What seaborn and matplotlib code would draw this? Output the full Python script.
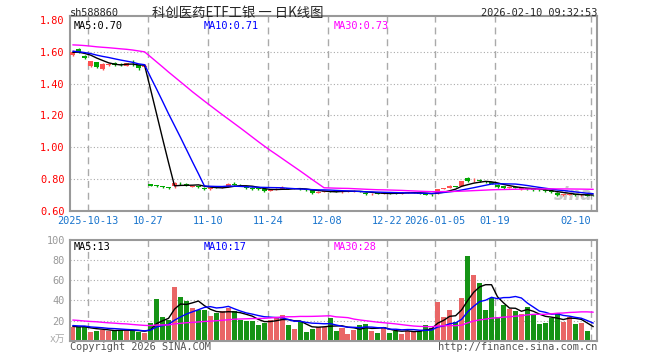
import numpy as np
import pandas as pd
import matplotlib
matplotlib.use("Agg")
import matplotlib.pyplot as plt
import seaborn as sns

# daily K-line of 588860 (09-30 .. 02-10), price in yuan, volume in 万
open_ = [1.580, 1.622, 1.578, 1.515, 1.535, 1.490, 1.520, 1.530, 1.525, 1.515,
         1.532, 1.518, 1.503, 0.768, 0.760, 0.756, 0.749, 0.757, 0.776, 0.770,
         0.752, 0.755, 0.746, 0.736, 0.748, 0.742, 0.752, 0.768, 0.763, 0.752,
         0.745, 0.738, 0.735, 0.726, 0.732, 0.739, 0.742, 0.737, 0.741, 0.734,
         0.728, 0.714, 0.719, 0.724, 0.722, 0.718, 0.721, 0.722, 0.724, 0.714,
         0.703, 0.709, 0.706, 0.714, 0.712, 0.708, 0.711, 0.713, 0.714, 0.710,
         0.702, 0.710, 0.737, 0.745, 0.756, 0.758, 0.805, 0.786, 0.792, 0.785,
         0.778, 0.760, 0.754, 0.742, 0.749, 0.736, 0.742, 0.735, 0.733, 0.732,
         0.724, 0.713, 0.698, 0.700, 0.705, 0.697, 0.701, 0.697]
high = [1.610, 1.626, 1.580, 1.545, 1.538, 1.528, 1.532, 1.535, 1.530, 1.532,
        1.552, 1.520, 1.522, 0.770, 0.763, 0.758, 0.750, 0.780, 0.782, 0.772,
        0.758, 0.758, 0.748, 0.745, 0.750, 0.752, 0.772, 0.778, 0.766, 0.755,
        0.747, 0.742, 0.737, 0.733, 0.741, 0.755, 0.745, 0.744, 0.743, 0.736,
        0.730, 0.724, 0.727, 0.727, 0.725, 0.728, 0.727, 0.730, 0.726, 0.716,
        0.710, 0.712, 0.714, 0.717, 0.714, 0.716, 0.718, 0.720, 0.716, 0.712,
        0.704, 0.738, 0.746, 0.760, 0.758, 0.790, 0.810, 0.803, 0.802, 0.790,
        0.781, 0.768, 0.757, 0.750, 0.752, 0.746, 0.744, 0.737, 0.736, 0.734,
        0.727, 0.716, 0.706, 0.708, 0.707, 0.704, 0.703, 0.699]
low = [1.572, 1.596, 1.556, 1.505, 1.498, 1.485, 1.515, 1.512, 1.512, 1.512,
       1.515, 1.485, 1.495, 0.755, 0.748, 0.745, 0.736, 0.745, 0.765, 0.755,
       0.748, 0.745, 0.733, 0.732, 0.740, 0.740, 0.750, 0.760, 0.755, 0.738,
       0.730, 0.728, 0.718, 0.722, 0.730, 0.736, 0.735, 0.734, 0.733, 0.725,
       0.708, 0.712, 0.716, 0.718, 0.716, 0.714, 0.718, 0.716, 0.716, 0.700,
       0.700, 0.703, 0.704, 0.708, 0.705, 0.706, 0.709, 0.711, 0.705, 0.697,
       0.692, 0.706, 0.734, 0.743, 0.748, 0.754, 0.783, 0.782, 0.780, 0.774,
       0.766, 0.746, 0.738, 0.740, 0.740, 0.732, 0.730, 0.725, 0.725, 0.720,
       0.713, 0.693, 0.695, 0.697, 0.694, 0.694, 0.692, 0.693]
close = [1.600, 1.600, 1.562, 1.542, 1.505, 1.524, 1.526, 1.520, 1.518, 1.528,
         1.528, 1.500, 1.510, 0.758, 0.757, 0.752, 0.740, 0.776, 0.772, 0.760,
         0.756, 0.750, 0.735, 0.742, 0.745, 0.748, 0.770, 0.765, 0.760, 0.742,
         0.735, 0.736, 0.726, 0.731, 0.739, 0.742, 0.738, 0.741, 0.736, 0.728,
         0.712, 0.720, 0.723, 0.721, 0.719, 0.723, 0.725, 0.724, 0.718, 0.704,
         0.708, 0.706, 0.712, 0.712, 0.709, 0.713, 0.715, 0.717, 0.708, 0.700,
         0.696, 0.735, 0.742, 0.755, 0.752, 0.785, 0.785, 0.790, 0.786, 0.778,
         0.770, 0.752, 0.742, 0.747, 0.744, 0.742, 0.735, 0.730, 0.729, 0.724,
         0.718, 0.700, 0.703, 0.705, 0.697, 0.701, 0.695, 0.696]
volume = [13.3, 13.3, 14, 9, 10, 10.7, 10, 10.7, 10.7, 10,
          10, 9, 7.3, 17.3, 41.3, 24, 21, 53, 43, 39,
          32, 30, 30, 25, 28, 29, 32, 29, 21, 20,
          20, 16, 18, 21, 24, 26, 16, 12, 20, 9,
          12, 14, 14, 23, 10, 13, 7, 11, 16, 17,
          10, 8, 14, 8, 10, 7, 10, 10, 10, 16,
          13, 38, 24, 30, 19, 42, 84, 65, 57, 30,
          42, 24, 35, 31, 29, 27, 33, 26, 17, 18,
          23, 28, 19, 24, 17, 18, 10, 0.8]
up = [1, 0, 0, 1, 0, 1, 1, 0, 0, 1, 0, 0, 1, 0, 0, 0, 0, 1, 0, 0,
      1, 0, 0, 1, 0, 1, 1, 0, 0, 0, 0, 0, 0, 1, 1, 1, 0, 1, 0, 0,
      0, 1, 1, 0, 0, 1, 1, 1, 0, 0, 1, 0, 1, 0, 0, 1, 1, 1, 0, 0,
      0, 1, 1, 1, 0, 1, 0, 1, 0, 0, 0, 0, 0, 1, 0, 1, 0, 0, 0, 0,
      0, 0, 1, 1, 0, 1, 0, 0]
# 29 sessions before the window, only needed to seed the moving averages
prev_close = [1.652, 1.645, 1.647, 1.630, 1.615, 1.608, 1.622, 1.625, 1.621, 1.660,
              1.675, 1.683, 1.695, 1.710, 1.702, 1.715, 1.698, 1.705, 1.692, 1.700,
              1.630, 1.618, 1.605, 1.603, 1.604, 1.595, 1.602, 1.596, 1.597]
prev_volume = [26, 31, 22, 19, 28, 24, 21, 25, 18, 27, 23, 20, 23,
               25, 20, 24, 19, 27, 21, 22, 17, 15, 18, 14, 15, 16, 13, 15, 14]

tick_idx = [3, 13, 23, 33, 43, 53, 61, 71, 87]
tick_lab = ["2025-10-13", "10-27", "11-10", "11-24", "12-08", "12-22",
            "2026-01-05", "01-19", "02-10"]

RED, GREEN = "#FF5050", "#00A800"
GRID = "#AAAAAA"
MONO = "DejaVu Sans Mono"

n = len(close)
idx = np.arange(n)
px_all = pd.Series(prev_close + close)
vol_all = pd.Series(prev_volume + volume)
ma_p = {k: px_all.rolling(k).mean().to_numpy()[-n:] for k in (5, 10, 30)}
ma_v = {k: vol_all.rolling(k).mean().to_numpy()[-n:] for k in (5, 10, 30)}
ma_col = {5: "black", 10: "#0000FF", 30: "#FF00FF"}

sns.set_style("white")
plt.rcParams["font.family"] = [MONO, "Noto Sans CJK SC"]

W, H = 660, 360
fig = plt.figure(figsize=(6.6, 3.6), dpi=100)


def box(l, t, r, b):
    return [l / W, 1 - b / H, (r - l) / W, (b - t) / H]


def ftext(x, y, s, **kw):
    fig.text(x / W, 1 - y / H, s, **kw)


axp = fig.add_axes(box(70.3, 16, 596.7, 210.7))
axv = fig.add_axes(box(70.3, 240, 596.7, 340.7))

XL = (-0.42, n - 0.42)
for ax in (axp, axv):
    for s in ax.spines.values():
        s.set_color("#999999")
        s.set_linewidth(1.5)
    for i in tick_idx:
        ax.axvline(i - 0.42, color=GRID, lw=1, dashes=(5, 3.5), zorder=0)

# price panel
for v in [0.8, 1.0, 1.2, 1.4, 1.6]:
    axp.axhline(v, color=GRID, lw=0.8, ls=(0, (1, 2)), zorder=0)
cols = [RED if u else GREEN for u in up]
o, c = np.array(open_), np.array(close)
axp.vlines(idx, low, high, colors=cols, lw=1, zorder=2)
axp.bar(idx, np.maximum(np.abs(c - o), 0.004), bottom=np.minimum(o, c),
        width=0.84, color=cols, linewidth=0, zorder=3)
for k in (5, 10, 30):
    sns.lineplot(x=idx, y=ma_p[k], ax=axp, color=ma_col[k], lw=1, zorder=4)
axp.set_xlim(*XL)
axp.set_ylim(0.60, 1.827)
axp.set_yticks([0.6, 0.8, 1.0, 1.2, 1.4, 1.6, 1.8])
axp.set_yticklabels(["%.2f" % v for v in [0.6, 0.8, 1.0, 1.2, 1.4, 1.6, 1.8]],
                    color="red", fontsize=7.4)
axp.set_xticks([i - 0.42 for i in tick_idx])
axp.set_xticklabels(tick_lab, color="#1874CD", fontsize=7.4)
axp.tick_params(length=0, pad=4)
axp.get_xticklabels()[-1].set_ha("right")
axp.set_xlabel("")
axp.set_ylabel("")
axp.text(0.955, 0.035, "sina", transform=axp.transAxes, ha="center", va="bottom",
         fontsize=12, color="#C8C8C8", style="italic", fontweight="bold",
         family="DejaVu Sans", zorder=1)

# volume panel
for v in [20, 40, 60, 80]:
    axv.axhline(v, color=GRID, lw=0.8, ls=(0, (1, 2)), zorder=0)
vdf = pd.DataFrame({"day": idx, "vol": volume,
                    "dir": ["up" if u else "down" for u in up]})
sns.barplot(data=vdf, x="day", y="vol", hue="dir", hue_order=["up", "down"],
            palette={"up": RED, "down": GREEN}, dodge=False, width=0.84,
            legend=False, ax=axv, zorder=2, linewidth=0)
for k in (5, 10, 30):
    sns.lineplot(x=idx, y=ma_v[k], ax=axv, color=ma_col[k], lw=1, zorder=4)
axv.set_xlim(*XL)
axv.set_ylim(0, 100)
axv.set_xticks([])
axv.set_yticks([20, 40, 60, 80, 100])
axv.set_yticklabels(["20", "40", "60", "80", "100"], color="#999999", fontsize=7.4)
axv.tick_params(length=0, pad=4)
axv.set_xlabel("")
axv.set_ylabel("")

# header texts
ftext(70, 13, "sh588860", fontsize=7.4, va="center", ha="left")
ftext(238, 13, "科创医药ETF工银 一 日K线图", fontsize=9.6, va="center", ha="center",
      family=["Noto Sans CJK SC", "DejaVu Sans"])
ftext(597, 13, "2026-02-10 09:32:53", fontsize=7.4, va="center", ha="right")

for x0, k in [(74, 5), (204, 10), (334, 30)]:
    ftext(x0, 26, "MA%d:%.2f" % (k, ma_p[k][-1]), fontsize=7.4, va="center",
          color=ma_col[k])
    ftext(x0, 247, "MA%d:%d" % (k, int(ma_v[k][-1])), fontsize=7.4, va="center",
          color=ma_col[k])

ftext(65, 339, "x万", fontsize=7, va="center", ha="right", color="#AAAAAA",
      family=[MONO, "Noto Sans CJK SC"])
ftext(70, 347, "Copyright 2026 SINA.COM", fontsize=7.4, va="center", color="#555555")
ftext(597, 347, "http://finance.sina.com.cn", fontsize=7.4, va="center",
      ha="right", color="#555555")

fig.savefig("out.png", dpi=100)
